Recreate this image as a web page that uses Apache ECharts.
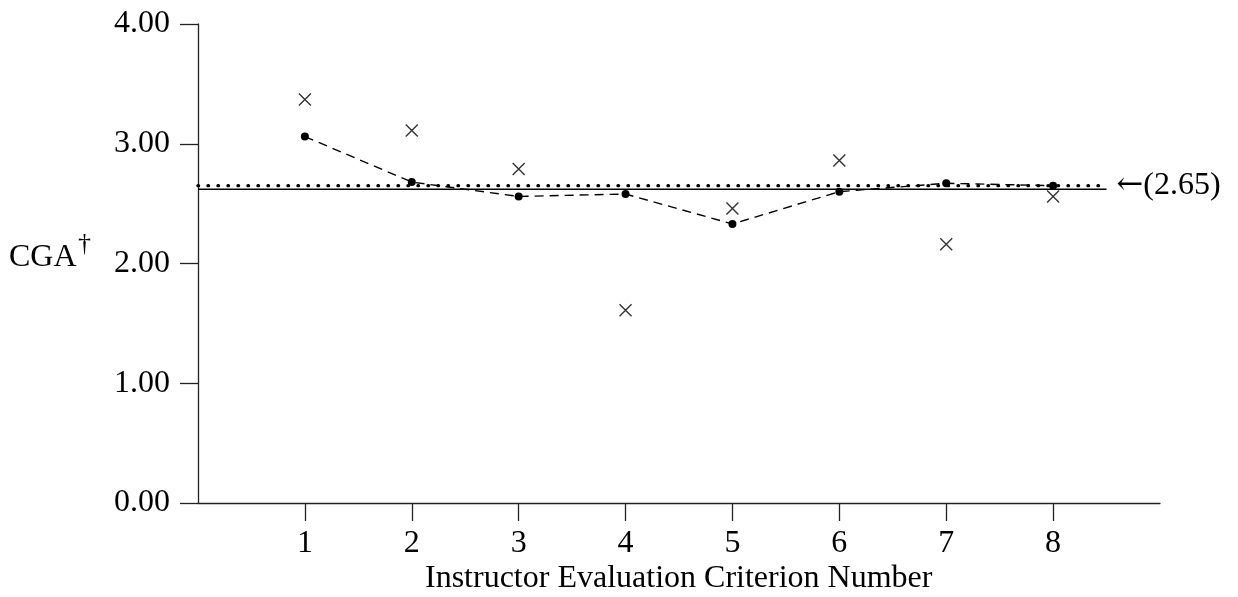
<!DOCTYPE html>
<html lang="en">
<head>
<meta charset="utf-8">
<title>CGA by instructor evaluation criterion</title>
<script src="https://cdn.jsdelivr.net/npm/echarts@6/dist/echarts.min.js"></script>
<style>
  html, body { margin: 0; background: #fff; }
  #chart { width: 1238px; height: 597px; }
</style>
</head>
<body>
<div id="chart"></div>
<script>
// values
var criteria = [1, 2, 3, 4, 5, 6, 7, 8];
var dotValues = [3.06, 2.68, 2.56, 2.58, 2.33, 2.60, 2.67, 2.65];
var crossValues = [3.37, 3.11, 2.79, 1.61, 2.46, 2.86, 2.16, 2.56];
var yTicks = [0, 1, 2, 3, 4];
var solidLevel = 2.62;
var meanLevel = 2.65;
var refLineEnds = [0, 8.5];

var font = 'Liberation Serif';
var ink = '#000';

function pairs(xs, ys) {
  var out = [];
  for (var i = 0; i < xs.length; i++) out.push([xs[i], ys[i]]);
  return out;
}

var chart = echarts.init(document.getElementById('chart'));
chart.setOption({
  animation: false,
  backgroundColor: '#fff',
  grid: { left: 198, right: 78, top: 24, bottom: 94 },
  xAxis: {
    type: 'value',
    min: 0,
    max: 9,
    interval: 1,
    axisLine: { lineStyle: { color: '#222', width: 1.3 } },
    axisTick: { customValues: criteria, length: 18, lineStyle: { color: '#222', width: 1.3 } },
    axisLabel: { customValues: criteria, margin: 25, fontFamily: font, fontSize: 32, color: ink },
    splitLine: { show: false }
  },
  yAxis: {
    type: 'value',
    min: yTicks[0],
    max: yTicks[yTicks.length - 1],
    interval: 1,
    axisLine: { show: true, lineStyle: { color: '#222', width: 1.3 } },
    axisTick: { show: true, length: 18, lineStyle: { color: '#222', width: 1.3 } },
    axisLabel: {
      margin: 28, fontFamily: font, fontSize: 32, color: ink,
      formatter: function (v) { return v.toFixed(2); }
    },
    splitLine: { show: false }
  },
  graphic: [
    { type: 'text', left: 9, top: 242, style: { text: 'CGA', font: '32px "Liberation Serif"', fill: ink } },
    { type: 'text', left: 78, top: 231, style: { text: '\u2020', font: '26px "Liberation Serif"', fill: ink } },
    { type: 'text', left: 425, top: 563,
      style: { text: 'Instructor Evaluation Criterion Number', font: '32px "Liberation Serif"', fill: ink } }
  ],
  series: [
    {
      type: 'line',
      data: pairs(refLineEnds, [solidLevel, solidLevel]),
      symbol: 'none',
      lineStyle: { color: ink, width: 1.6 },
      z: 2
    },
    {
      type: 'line',
      data: pairs(refLineEnds, [meanLevel, meanLevel]),
      symbol: 'none',
      lineStyle: { color: ink, width: 3.4, type: [0.5, 9.5], cap: 'round' },
      endLabel: {
        show: true,
        distance: 10,
        formatter: '{a|\u2190}{b|(2.65)}',
        rich: {
          a: { fontFamily: 'DejaVu Serif', fontSize: 32, color: ink },
          b: { fontFamily: font, fontSize: 32, color: ink }
        }
      },
      z: 3
    },
    {
      type: 'line',
      data: pairs(criteria, dotValues),
      symbol: 'circle',
      symbolSize: 8,
      itemStyle: { color: ink },
      lineStyle: { color: ink, width: 1.4, type: [9, 6] },
      z: 4
    },
    {
      type: 'scatter',
      data: pairs(criteria, crossValues),
      symbol: 'path://M0,0L10,10M10,0L0,10',
      symbolSize: 12,
      itemStyle: { color: 'none', borderColor: ink, borderWidth: 1.4 },
      z: 5
    }
  ]
});
</script>
</body>
</html>
